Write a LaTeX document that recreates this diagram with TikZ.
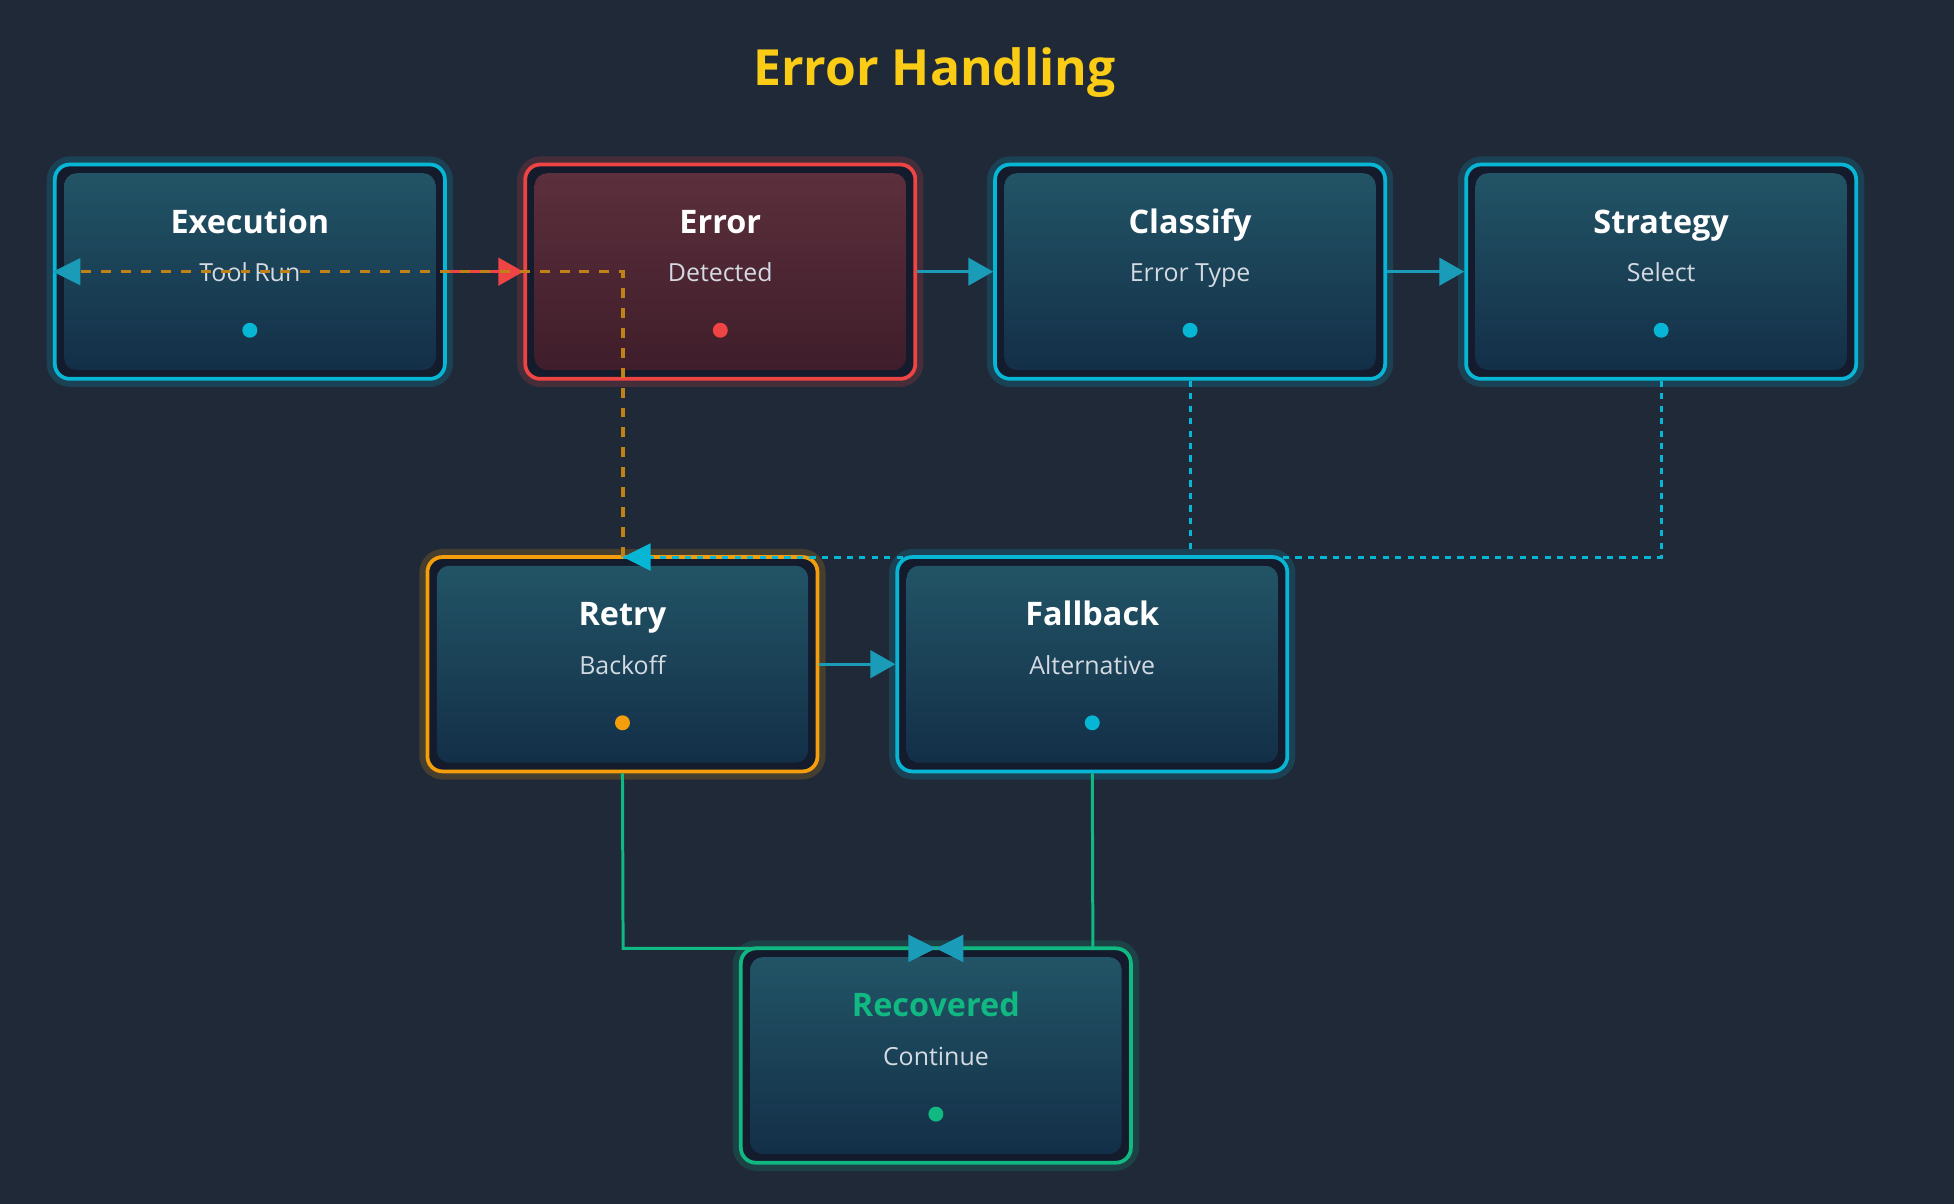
\documentclass[tikz,border=0pt]{standalone}
\usepackage{fontspec}
\setmainfont{Open Sans}
\usetikzlibrary{arrows.meta}
\definecolor{bg}{HTML}{202938}
\definecolor{cy}{HTML}{06B6D4}
\definecolor{rd}{HTML}{EF4444}
\definecolor{og}{HTML}{F59E0B}
\definecolor{gn}{HTML}{10B981}
\definecolor{ttl}{HTML}{FACC15}
\definecolor{tl}{HTML}{1A9BB8}
\definecolor{inA}{HTML}{225466}
\definecolor{inB}{HTML}{132F48}
\definecolor{erA}{HTML}{5C2F3C}
\definecolor{erB}{HTML}{3F1D2A}
\definecolor{gap}{HTML}{141B2C}
\definecolor{sub}{HTML}{D4DAE2}
\tikzset{
  box/.style={draw=#1, line width=1.5pt, fill=gap, rounded corners=6pt, minimum width=156.5pt, minimum height=86pt, inner sep=0pt},
  glow/.style={draw=#1, line width=5pt, draw opacity=0.18, rounded corners=7pt, minimum width=158pt, minimum height=87.5pt, inner sep=0pt},
  inner/.style={rounded corners=5pt, minimum width=149pt, minimum height=79pt, inner sep=0pt},
  ttlf/.style={font=\bfseries\fontsize{13}{15}\selectfont, anchor=base, inner sep=0pt},
  subf/.style={font=\fontsize{10}{12}\selectfont, text=sub, anchor=base, inner sep=0pt},
  tip/.style={-{Triangle[length=10pt,width=11pt]}},
}
\newcommand{\mkbox}[8]{%
  \node[glow=#4] at (#2,#3) {};
  \node[box=#4] (#1) at (#2,#3) {};
  \node[inner, top color=#7, bottom color=#8] at (#2,#3) {};
  \node[ttlf, text=#5] (#1t) at (#2,#3-31) {#6};
  \fill[#4] (#2,#3+47) circle (3pt);
}
\begin{document}
\begin{tikzpicture}[x=0.5pt,y=-0.5pt]
\fill[bg] (0,0) rectangle (1568,966);
\useasboundingbox (0,0) rectangle (1568,966);
\node[font=\bfseries\fontsize{20}{24}\selectfont, text=ttl, anchor=base, inner sep=0pt] (title) at (750,69) {Error Handling};

\mkbox{exe}{200.5}{218}{cy}{white}{Execution}{inA}{inB}
\mkbox{err}{578}{218}{rd}{white}{Error}{erA}{erB}
\mkbox{cls}{955}{218}{cy}{white}{Classify}{inA}{inB}
\mkbox{str}{1333}{218}{cy}{white}{Strategy}{inA}{inB}
\mkbox{ret}{499.5}{533}{og}{white}{Retry}{inA}{inB}
\mkbox{fb}{876.5}{533}{cy}{white}{Fallback}{inA}{inB}
\mkbox{rec}{751}{847}{gn}{gn}{Recovered}{inA}{inB}

\node[subf] (s1) at (200.5,226) {Tool Run};
\node[subf] (s2) at (578,226) {Detected};
\node[subf] (s3) at (955,226) {Error Type};
\node[subf] (s4) at (1333,226) {Select};
\node[subf] (s5) at (499.5,541) {Backoff};
\node[subf] (s6) at (876.5,541) {Alternative};
\node[subf] (s7) at (751,855) {Continue};

\coordinate (jA) at (500,218);
\coordinate (jB) at (955,447);
\coordinate (jC) at (1333,447);
\coordinate (jD) at (500,761);
\coordinate (jE) at (877,761);
\coordinate (rtop) at (500,447);
\coordinate (mid) at (751,761);

\draw[rd, line width=1.2pt, tip] (exe.east) -- (err.west);
\draw[tl, line width=1.2pt, tip] (err.east) -- (cls.west);
\draw[tl, line width=1.2pt, tip] (cls.east) -- (str.west);
\draw[tl, line width=1.2pt, tip] (ret.east) -- (fb.west);

\draw[og!75!bg, line width=1.3pt, dash pattern=on 4pt off 4pt] (rtop) -- (jA) -- (exe.west);
\fill[tl] (exe.west) -- ++(22,-11) -- ++(0,22) -- cycle;

\draw[cy, line width=1.2pt, dash pattern=on 2.5pt off 2.5pt] (cls.south) -- (jB);
\draw[cy, line width=1.2pt, dash pattern=on 2.5pt off 2.5pt] (str.south) -- (jC) -- (rtop);
\fill[cy] (rtop) -- ++(22,-11) -- ++(0,22) -- cycle;

\draw[gn, line width=1.2pt] (ret.south) -- (jD) -- (mid);
\draw[gn, line width=1.2pt] (fb.south) -- (jE) -- (mid);
\fill[tl] (mid) -- ++(-22,-11) -- ++(0,22) -- cycle;
\fill[tl] (mid) -- ++(22,-11) -- ++(0,22) -- cycle;
\end{tikzpicture}
\end{document}
